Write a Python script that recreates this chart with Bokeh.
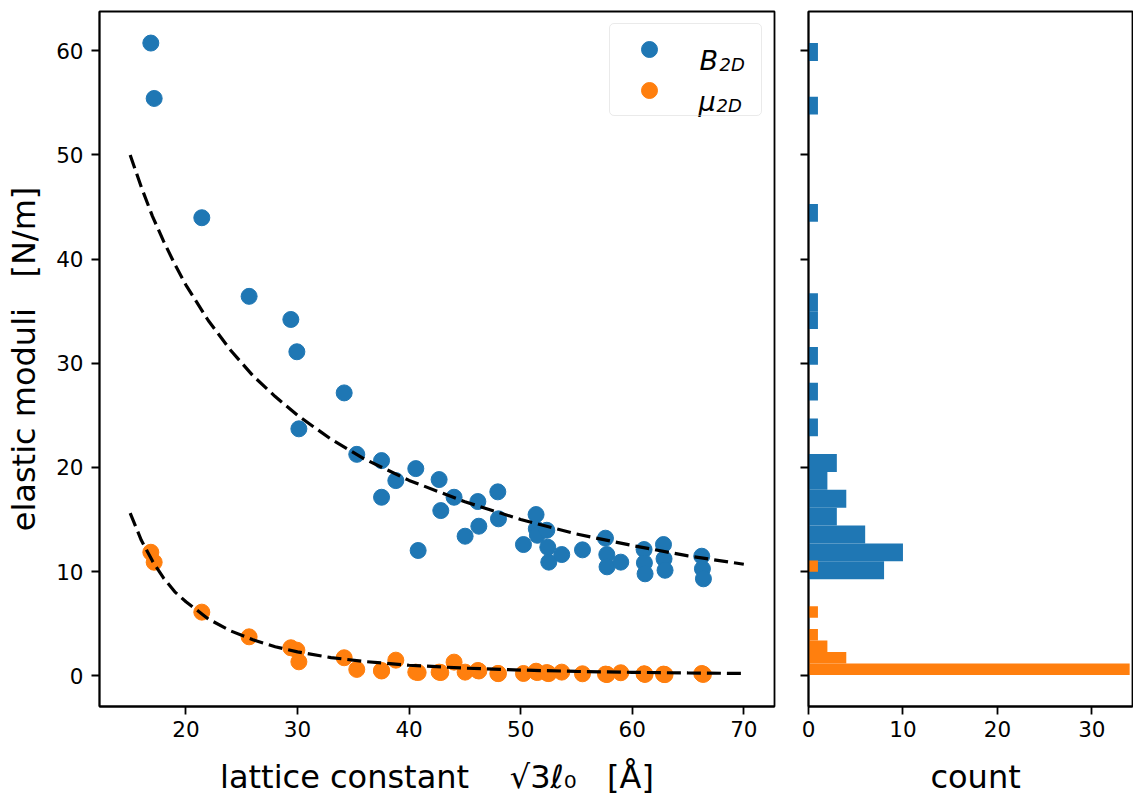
import numpy as np
from bokeh.plotting import figure
from bokeh.layouts import row
from bokeh.models import (Range1d, FixedTicker, Legend, LegendItem, Label,
                          CustomJSTickFormatter)
from bokeh.embed import file_html
from bokeh.resources import INLINE

# ---------------- data ----------------
lattice = [16.85, 17.15, 21.42, 25.66, 29.40, 29.94, 30.12, 34.18, 35.31, 37.53,
           37.53, 38.81, 40.60, 40.81, 42.69, 42.84, 44.03, 45.02, 46.16, 46.25,
           47.95, 48.01, 50.25, 51.38, 51.40, 51.50, 52.34, 52.43, 52.52, 53.68,
           55.54, 57.60, 57.72, 57.74, 58.97, 61.06, 61.09, 61.15, 62.80, 62.85,
           62.94, 66.23, 66.29, 66.38]
B2D = [60.74, 55.42, 43.97, 36.42, 34.20, 31.10, 23.70, 27.15, 21.25, 20.65,
       17.13, 18.73, 19.88, 12.02, 18.83, 15.85, 17.13, 13.39, 16.72, 14.35,
       17.65, 15.06, 12.59, 15.47, 14.10, 13.48, 13.96, 12.33, 10.90, 11.63,
       12.08, 13.20, 11.63, 10.45, 10.90, 12.11, 10.83, 9.78, 12.59, 11.22,
       10.12, 11.47, 10.26, 9.30]
mu2D = [11.85, 10.89, 6.10, 3.73, 2.68, 2.45, 1.33, 1.72, 0.60, 0.50,
        0.45, 1.49, 0.34, 0.30, 0.34, 0.30, 1.30, 0.34, 0.50, 0.45,
        0.21, 0.20, 0.21, 0.43, 0.35, 0.30, 0.30, 0.22, 0.20, 0.34,
        0.18, 0.15, 0.12, 0.12, 0.28, 0.18, 0.15, 0.12, 0.15, 0.12,
        0.10, 0.21, 0.15, 0.12]

# dashed fit curves
fit_x = [15, 16, 17, 18, 19, 20, 22, 24, 26, 28, 30, 33, 36, 40, 45, 50, 55, 60, 65, 70]
fit_B = [50.0, 46.9, 44.1, 41.7, 39.5, 37.5, 34.1, 31.25, 28.8, 26.8, 25.0, 22.7,
         20.8, 18.75, 16.7, 15.0, 13.6, 12.5, 11.5, 10.7]
fit_mu = [15.6, 13.0, 11.0, 9.36, 8.05, 7.1, 5.45, 4.3, 3.45, 2.78, 2.28, 1.74,
          1.36, 1.0, 0.72, 0.54, 0.41, 0.32, 0.26, 0.21]

# histograms (horizontal)
B_hist_start, B_hist_width = 9.26, 1.716
B_hist_counts = [8, 10, 6, 3, 4, 2, 3, 0, 1, 0, 1, 0, 1, 0, 1, 1, 0, 0, 0, 0,
                 1, 0, 0, 0, 0, 0, 1, 0, 0, 1]
mu_hist_start, mu_hist_width = 0.07, 1.1
mu_hist_counts = [34, 4, 2, 1, 0, 1, 0, 0, 0, 1]

y_ticks = [0, 10, 20, 30, 40, 50, 60]
x_ticks = [20, 30, 40, 50, 60, 70]
count_ticks = [0, 10, 20, 30]

BLUE = "#1f77b4"
ORANGE = "#ff7f0e"
FONT = "DejaVu Sans"

# ---------------- figures ----------------
yr = Range1d(-2.96, 63.77)

p = figure(frame_width=675, frame_height=695, x_range=Range1d(12.25, 72.75),
           y_range=yr, output_backend="svg", toolbar_location=None,
           min_border_left=99, min_border_right=10, min_border_top=11,
           min_border_bottom=86)
q = figure(frame_width=324, frame_height=695, x_range=Range1d(0, 34.3),
           y_range=yr, output_backend="svg", toolbar_location=None,
           min_border_left=24, min_border_right=1, min_border_top=11,
           min_border_bottom=86)


def style_axis(ax):
    ax.axis_line_color = "black"
    ax.axis_line_width = 1.8
    ax.major_tick_line_color = "black"
    ax.major_tick_line_width = 1.8
    ax.major_tick_out = 8
    ax.major_tick_in = 0
    ax.minor_tick_line_color = None
    ax.major_label_text_font = FONT
    ax.major_label_text_font_size = "21.5px"
    ax.major_label_text_color = "black"
    ax.major_label_standoff = 8
    ax.axis_label_text_font = FONT
    ax.axis_label_text_font_size = "32px"
    ax.axis_label_text_font_style = "normal"
    ax.axis_label_text_color = "black"


for f in (p, q):
    f.xgrid.visible = False
    f.ygrid.visible = False
    f.outline_line_color = "black"
    f.outline_line_width = 1.8
    f.outline_line_alpha = 1.0
    f.background_fill_color = "white"
    f.border_fill_color = "white"
    style_axis(f.xaxis[0])
    style_axis(f.yaxis[0])
    f.yaxis[0].ticker = FixedTicker(ticks=y_ticks)
    f.xaxis[0].major_label_standoff = 6

p.xaxis[0].ticker = FixedTicker(ticks=x_ticks)
q.xaxis[0].ticker = FixedTicker(ticks=count_ticks)
q.yaxis[0].formatter = CustomJSTickFormatter(code="return ''")

p.yaxis[0].axis_label = "elastic moduli\u00a0\u00a0\u00a0[N/m]"
p.yaxis[0].axis_label_standoff = 10
p.xaxis[0].axis_label = ("lattice constant\u00a0\u00a0\u00a0\u00a0\u221a3\u2113\u2080"
                         "\u00a0\u00a0\u00a0[\u00c5]")
p.xaxis[0].axis_label_standoff = 18
q.xaxis[0].axis_label = "\u00a0count"
q.xaxis[0].axis_label_standoff = 18

# scatter + fits
rb = p.scatter(lattice, B2D, size=16, fill_color=BLUE, line_color=BLUE, line_width=1)
ro = p.scatter(lattice, mu2D, size=16, fill_color=ORANGE, line_color=ORANGE, line_width=1)
p.line(fit_x, fit_B, line_color="black", line_width=3.2, line_dash="14 6")
p.line(fit_x, fit_mu, line_color="black", line_width=3.2, line_dash="14 6")

# legend (glyphs + box), text drawn as labels to get subscripts
legend = Legend(items=[LegendItem(label=" ", renderers=[rb]),
                       LegendItem(label=" ", renderers=[ro])],
                location=(510, 590), padding=5, margin=0, spacing=1,
                glyph_width=68, glyph_height=40, label_height=40,
                label_width=68, label_standoff=5,
                label_text_font_size="12px",
                border_line_color="#d6d6d6", border_line_width=1.5,
                background_fill_color="white", background_fill_alpha=0.0)
try:
    legend.border_radius = 5
except Exception:
    pass
p.add_layout(legend)

for txt, x, y, size in [("B", 600, 646.5, "27px"), ("2D", 620, 642.5, "18px"),
                        ("\u03bc", 599, 605.5, "27px"), ("2D", 617, 601.5, "18px")]:
    p.add_layout(Label(x=x, y=y, x_units="screen", y_units="screen", text=txt,
                       text_font=FONT, text_font_size=size,
                       text_font_style="italic", text_color="black",
                       text_alpha=1.0, text_baseline="alphabetic",
                       text_align="left", level="overlay"))

# histograms
B_centers = [B_hist_start + B_hist_width * (k + 0.5) for k in range(len(B_hist_counts))]
mu_centers = [mu_hist_start + mu_hist_width * (k + 0.5) for k in range(len(mu_hist_counts))]
q.hbar(y=B_centers, height=B_hist_width, left=0, right=B_hist_counts,
       fill_color=BLUE, line_color=None)
q.hbar(y=mu_centers, height=mu_hist_width, left=0, right=mu_hist_counts,
       fill_color=ORANGE, line_color=None)

layout = row(p, q)
open("out.html", "w").write(file_html(layout, INLINE))
